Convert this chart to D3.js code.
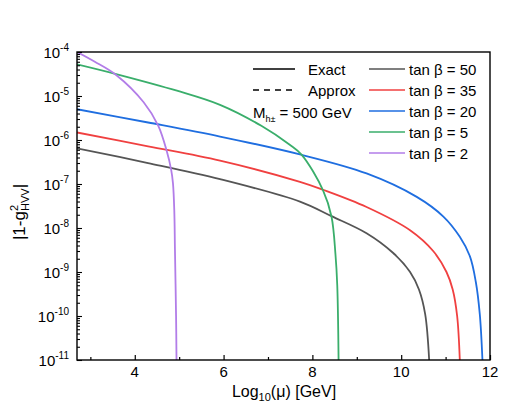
<!DOCTYPE html>
<html><head><meta charset="utf-8">
<script src="https://cdn.jsdelivr.net/npm/d3@7"></script>
<style>
html,body{margin:0;padding:0;background:#fff;}
text{font-family:"Liberation Sans",Arial,Helvetica,sans-serif;fill:#000;}
</style></head>
<body><svg id="c" width="515" height="412"></svg>
<script>
// ---- data (x = log10(mu/GeV), y = |1 - g^2_HVV|) ----
const seriesNames = ["tan \u03b2 = 50", "tan \u03b2 = 35", "tan \u03b2 = 20", "tan \u03b2 = 5", "tan \u03b2 = 2"];
const seriesColors = ["#555555", "#f04040", "#1f6ee0", "#3aae6b", "#b27de8"];

const xTan50 = [2.699, 4.3, 5.92, 7.72, 8.43, 9.22, 9.82, 10.2, 10.4, 10.54, 10.63];
const yTan50 = [6.46e-7, 3.0e-7, 1.29e-7, 3.98e-8, 1.86e-8, 7.6e-9, 2.7e-9, 1.0e-9, 4.0e-10, 1.1e-10, 1e-11];

const xTan35 = [2.699, 4.3, 5.92, 7.72, 8.24, 9.22, 10.2, 10.72, 11.02, 11.16, 11.26, 11.32];
const yTan35 = [1.48e-6, 7.2e-7, 3.4e-7, 1.12e-7, 7.4e-8, 3.0e-8, 8.9e-9, 3.0e-9, 1.0e-9, 4.0e-10, 1.0e-10, 1e-11];

const xTan20 = [2.699, 4.3, 5.92, 7.72, 9.22, 10.35, 10.95, 11.32, 11.55, 11.68, 11.77, 11.83];
const yTan20 = [5.0e-6, 2.5e-6, 1.2e-6, 4.7e-7, 1.74e-7, 5.1e-8, 1.82e-8, 6.3e-9, 2.24e-9, 6.0e-10, 1.1e-10, 1e-11];

const xTan5 = [2.699, 3.58, 4.95, 5.92, 6.85, 7.49, 7.76, 8.24, 8.43, 8.52, 8.56, 8.59];
const yTan5 = [5.25e-5, 3.16e-5, 1.32e-5, 6.3e-6, 2.1e-6, 7.8e-7, 4.6e-7, 7.2e-8, 1.82e-8, 2.5e-9, 5.0e-10, 1e-11];

const xTan2 = [2.699, 3.1, 3.58, 4.2, 4.53, 4.72, 4.82, 4.86, 4.89, 4.905, 4.93, 4.94];
const yTan2 = [1e-4, 6.0e-5, 3.0e-5, 7.2e-6, 2.1e-6, 5.6e-7, 2.1e-7, 1.05e-7, 2.5e-8, 3.2e-9, 1e-10, 1e-11];

const xTicks = [4, 6, 8, 10, 12];
const xMinorTicks = [3, 5, 7, 9, 11];
const yExponents = [-4, -5, -6, -7, -8, -9, -10, -11];
const xDomain = [2.699, 12];
const yDomain = [1e-11, 1e-4];

const series = [
  {name: seriesNames[0], color: seriesColors[0], x: xTan50, y: yTan50},
  {name: seriesNames[1], color: seriesColors[1], x: xTan35, y: yTan35},
  {name: seriesNames[2], color: seriesColors[2], x: xTan20, y: yTan20},
  {name: seriesNames[3], color: seriesColors[3], x: xTan5, y: yTan5},
  {name: seriesNames[4], color: seriesColors[4], x: xTan2, y: yTan2}
];

// ---- layout ----
const L = 77, R = 490, T = 52, B = 360;
const svg = d3.select("#c");
const x = d3.scaleLinear().domain(xDomain).range([L, R]);
const y = d3.scaleLog().domain(yDomain).range([B, T]);

svg.append("defs").append("clipPath").attr("id", "clip")
  .append("rect").attr("x", L).attr("y", T).attr("width", R - L).attr("height", B - T);

// curves
const line = d3.line().x(d => x(d[0])).y(d => y(d[1])).curve(d3.curveCatmullRom.alpha(0.5));
const g = svg.append("g").attr("clip-path", "url(#clip)");
series.forEach(s => {
  const pts = s.x.map((v, i) => [v, s.y[i]]);
  g.append("path").datum(pts).attr("d", line)
    .attr("fill", "none").attr("stroke", s.color).attr("stroke-width", 1.8);
});

// frame
svg.append("rect").attr("x", L).attr("y", T).attr("width", R - L).attr("height", B - T)
  .attr("fill", "none").attr("stroke", "#000").attr("stroke-width", 1.4);

// x ticks (inward)
const xMaj = d3.axisBottom(x).tickValues(xTicks).tickSize(-5).tickFormat("");
const xMin = d3.axisBottom(x).tickValues(xMinorTicks).tickSize(-3).tickFormat("");
[xMaj, xMin].forEach(ax => {
  const a = svg.append("g").attr("transform", `translate(0,${B})`).call(ax);
  a.select(".domain").remove();
  a.selectAll("line").attr("stroke", "#000").attr("stroke-width", 1.2);
});
xTicks.forEach(t => {
  svg.append("text").attr("x", x(t)).attr("y", 377).attr("text-anchor", "middle")
    .attr("font-size", 15).text(t);
});

// y ticks (inward)
const yMajVals = yExponents.map(e => Math.pow(10, e));
const yMinVals = [];
yExponents.slice(1).forEach(e => { for (let k = 2; k <= 9; k++) yMinVals.push(k * Math.pow(10, e)); });
const yMaj = d3.axisLeft(y).tickValues(yMajVals).tickSize(-5).tickFormat("");
const yMin = d3.axisLeft(y).tickValues(yMinVals).tickSize(-3).tickFormat("");
[yMaj, yMin].forEach(ax => {
  const a = svg.append("g").attr("transform", `translate(${L},0)`).call(ax);
  a.select(".domain").remove();
  a.selectAll("line").attr("stroke", "#000").attr("stroke-width", 1.1);
});
yExponents.forEach(e => {
  const t = svg.append("text").attr("x", 69).attr("y", y(Math.pow(10, e)) + 5.5)
    .attr("text-anchor", "end").attr("font-size", 15);
  t.append("tspan").text("10");
  t.append("tspan").attr("font-size", 10).attr("dy", -7).text("-" + Math.abs(e));
});

// axis titles
const xt = svg.append("text").attr("x", 284).attr("y", 397).attr("text-anchor", "middle")
  .attr("font-size", 16);
xt.append("tspan").text("Log");
xt.append("tspan").attr("font-size", 11).attr("dy", 4).text("10");
xt.append("tspan").attr("dy", -4).text("(\u03bc) [GeV]");

const yt = svg.append("text").attr("transform", "translate(25,212) rotate(-90)")
  .attr("text-anchor", "middle").attr("font-size", 17);
yt.append("tspan").text("|1-g");
yt.append("tspan").attr("font-size", 11).attr("dy", -7).text("2");
yt.append("tspan").attr("font-size", 11).attr("dx", -6).attr("dy", 11).text("HVV");
yt.append("tspan").attr("dy", -4).text("|");

// legend: line styles
svg.append("line").attr("x1", 253).attr("x2", 295).attr("y1", 69).attr("y2", 69)
  .attr("stroke", "#000").attr("stroke-width", 1.5);
svg.append("text").attr("x", 308).attr("y", 74.5).attr("font-size", 15).text("Exact");
svg.append("line").attr("x1", 253).attr("x2", 295).attr("y1", 90).attr("y2", 90)
  .attr("stroke", "#000").attr("stroke-width", 1.5).attr("stroke-dasharray", "6,5");
svg.append("text").attr("x", 308).attr("y", 95.5).attr("font-size", 15).text("Approx");
const mt = svg.append("text").attr("x", 253).attr("y", 118).attr("font-size", 15);
mt.append("tspan").text("M");
mt.append("tspan").attr("font-size", 9).attr("dy", 4).text("h\u00b1");
mt.append("tspan").attr("dy", -4).text(" = 500 GeV");

// legend: series
series.forEach((s, i) => {
  const yy = 69 + i * 21;
  svg.append("line").attr("x1", 369).attr("x2", 405).attr("y1", yy).attr("y2", yy)
    .attr("stroke", s.color).attr("stroke-width", 1.6);
  svg.append("text").attr("x", 409).attr("y", yy + 5.5).attr("font-size", 15).text(s.name);
});
</script></body></html>
